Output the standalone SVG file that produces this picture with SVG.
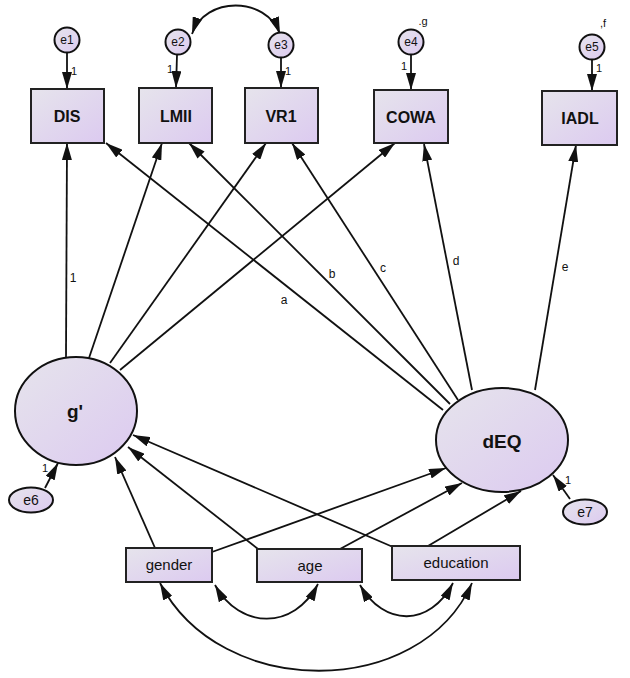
<svg xmlns="http://www.w3.org/2000/svg" width="630" height="678" viewBox="0 0 630 678">
<defs>
<linearGradient id="fill" x1="0" y1="0" x2="1" y2="1">
<stop offset="0" stop-color="#e6e4ec"/>
<stop offset="1" stop-color="#dccaf0"/>
</linearGradient>
<marker id="ah" markerUnits="userSpaceOnUse" markerWidth="18" markerHeight="10" refX="17" refY="5" orient="auto-start-reverse" viewBox="0 0 18 10">
<path d="M0,0 L17,5 L0,10 z" fill="#111"/>
</marker>
<style>
.box{fill:url(#fill);stroke:#222;stroke-width:2}
.lat{fill:url(#fill);stroke:#111;stroke-width:2}
.err{fill:url(#fill);stroke:#111;stroke-width:2}
.bt{font-family:"Liberation Sans",Arial,sans-serif;font-weight:bold;font-size:16px;fill:#111;text-anchor:middle}
.lt{font-family:"Liberation Sans",Arial,sans-serif;font-weight:bold;font-size:19px;fill:#111;text-anchor:middle}
.et{font-family:"Liberation Sans",Arial,sans-serif;font-size:12px;fill:#111;text-anchor:middle}
.ot{font-family:"Liberation Sans",Arial,sans-serif;font-size:14px;fill:#111;text-anchor:middle}
.xt{font-family:"Liberation Sans",Arial,sans-serif;font-size:15px;fill:#111;text-anchor:middle}
.pt{font-family:"Liberation Sans",Arial,sans-serif;font-size:12px;fill:#111;text-anchor:middle}
.st{font-family:"Liberation Sans",Arial,sans-serif;font-size:11px;fill:#111;text-anchor:middle}
.a{fill:none;stroke:#111;stroke-width:1.8;marker-end:url(#ah)}
.d{fill:none;stroke:#111;stroke-width:1.8;marker-start:url(#ah);marker-end:url(#ah)}
</style>
</defs>
<rect width="630" height="678" fill="#fff"/>
<g id="connectors">
<line class="a" x1="67" y1="53" x2="67" y2="89"/>
<line class="a" x1="177" y1="55" x2="176" y2="88"/>
<line class="a" x1="281" y1="58" x2="281" y2="88"/>
<line class="a" x1="411" y1="55" x2="411" y2="90"/>
<line class="a" x1="592" y1="60" x2="592" y2="91"/>
<path class="d" d="M192,34 C205,-4 266,-4 280,34"/>
<line class="a" x1="66" y1="357" x2="67" y2="143"/>
<line class="a" x1="89" y1="358" x2="162" y2="143"/>
<line class="a" x1="110" y1="363" x2="266" y2="143"/>
<line class="a" x1="120" y1="370" x2="395" y2="143"/>
<line class="a" x1="443" y1="410" x2="106" y2="143"/>
<line class="a" x1="450" y1="404" x2="189" y2="143"/>
<line class="a" x1="458" y1="400" x2="292" y2="143"/>
<line class="a" x1="472" y1="390" x2="424" y2="144"/>
<line class="a" x1="535" y1="390" x2="576" y2="145"/>
<line class="a" x1="155" y1="548" x2="115" y2="457"/>
<line class="a" x1="258" y1="549" x2="128" y2="447"/>
<line class="a" x1="393" y1="547" x2="133" y2="435"/>
<line class="a" x1="212" y1="552" x2="446" y2="468"/>
<line class="a" x1="340" y1="549" x2="462" y2="483"/>
<line class="a" x1="428" y1="546" x2="521" y2="491"/>
<line class="a" x1="45" y1="488" x2="58" y2="463"/>
<line class="a" x1="570" y1="499" x2="553" y2="475"/>
<path class="d" d="M215,585 C240,630 294,630 318,584"/>
<path class="d" d="M360,585 C384,627 430,627 453,583"/>
<path class="d" d="M160,583 C220,700 420,700 472,583"/>
<text class="pt" x="73" y="282">1</text>
<text class="pt" x="284" y="304">a</text>
<text class="pt" x="332" y="278">b</text>
<text class="pt" x="383" y="272">c</text>
<text class="pt" x="456" y="265">d</text>
<text class="pt" x="565" y="271">e</text>
<text class="st" x="74" y="75">1</text>
<text class="st" x="170" y="73">1</text>
<text class="st" x="288" y="75">1</text>
<text class="st" x="404" y="70">1</text>
<text class="st" x="599" y="72">1</text>
<text class="st" x="423" y="25">.g</text>
<text class="st" x="603" y="27">,f</text>
<text class="st" x="45" y="472">1</text>
<text class="st" x="568" y="484">1</text>
</g>
<g id="e1"><circle class="err" cx="67" cy="40" r="12.5"/><text class="et" x="67" y="44">e1</text></g>
<g id="e2"><circle class="err" cx="178" cy="42" r="12.5"/><text class="et" x="178" y="46">e2</text></g>
<g id="e3"><circle class="err" cx="281" cy="45" r="12.5"/><text class="et" x="281" y="49">e3</text></g>
<g id="e4"><circle class="err" cx="411" cy="42" r="12.5"/><text class="et" x="411" y="46">e4</text></g>
<g id="e5"><circle class="err" cx="592" cy="47" r="12.5"/><text class="et" x="592" y="51">e5</text></g>
<g id="DIS"><rect class="box" x="31" y="89" width="73" height="54"/><text class="bt" x="67" y="122">DIS</text></g>
<g id="LMII"><rect class="box" x="139" y="88" width="73" height="55"/><text class="bt" x="176" y="122">LMII</text></g>
<g id="VR1"><rect class="box" x="245" y="88" width="73" height="55"/><text class="bt" x="281" y="122">VR1</text></g>
<g id="COWA"><rect class="box" x="374" y="90" width="74" height="53"/><text class="bt" x="411" y="123">COWA</text></g>
<g id="IADL"><rect class="box" x="542" y="91" width="75" height="54"/><text class="bt" x="580" y="124">IADL</text></g>
<g id="g"><ellipse class="lat" cx="76" cy="411" rx="61" ry="54"/><text class="lt" x="75" y="418">g'</text></g>
<g id="dEQ"><ellipse class="lat" cx="502" cy="440" rx="66" ry="52"/><text class="lt" x="502" y="448">dEQ</text></g>
<g id="e6"><ellipse class="err" cx="31" cy="500" rx="22" ry="12.5"/><text class="ot" x="31" y="505">e6</text></g>
<g id="e7"><ellipse class="err" cx="585" cy="512" rx="22" ry="12.5"/><text class="ot" x="585" y="517">e7</text></g>
<g id="gender"><rect class="box" x="126" y="548" width="86" height="34"/><text class="xt" x="169" y="570">gender</text></g>
<g id="age"><rect class="box" x="257" y="549" width="105" height="33"/><text class="xt" x="310" y="571">age</text></g>
<g id="education"><rect class="box" x="392" y="546" width="128" height="34"/><text class="xt" x="456" y="568">education</text></g>
</svg>
